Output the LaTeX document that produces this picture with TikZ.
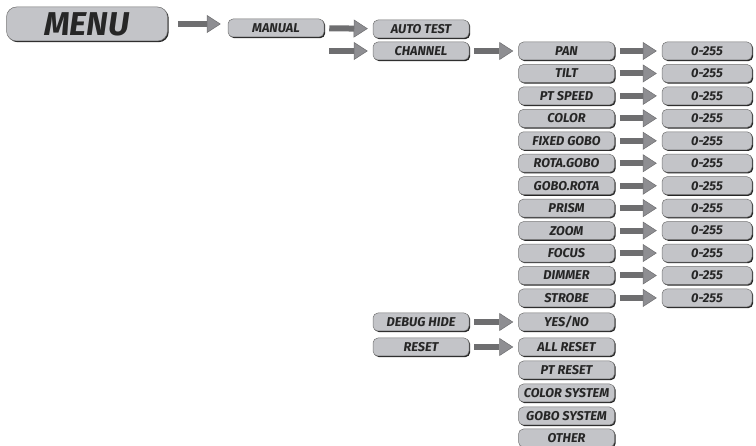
\documentclass[tikz,border=0pt]{standalone}
\usepackage{fontspec}
\setmainfont{Fira Sans}
\usepackage{tikz}
\usetikzlibrary{arrows.meta, shadows}
\definecolor{boxgray}{HTML}{C3C4C8}
\definecolor{shaftgray}{HTML}{6E6E70}
\definecolor{headgray}{HTML}{8E8E92}
\tikzset{
	menubox/.style={draw=black!55, line width=0.5pt, fill=boxgray, rounded corners=5pt,
		minimum height=18pt, inner sep=0pt, text=black!85,
		font=\bfseries\itshape\fontsize{12.8}{13}\selectfont,
		drop shadow={shadow xshift=1.2pt, shadow yshift=-1.2pt, fill=black!85, opacity=1}},
	midbox/.style={menubox, minimum width=96pt},
	valbox/.style={menubox, minimum width=90pt},
	goto/.style={line width=6pt, draw=shaftgray, shorten <=5pt, shorten >=5pt,
		-{Triangle[width=18pt,length=14pt,line width=0.5pt,fill=headgray]}}
}

\begin{document}
\begin{tikzpicture}[x=1pt,y=-1pt]
	\useasboundingbox (0,0) rectangle (756,446);
	\node[menubox, minimum width=161pt, minimum height=34pt, rounded corners=10pt,
		font=\bfseries\itshape\fontsize{33}{35}\selectfont] (menu) at (87,24) {MENU};
	\node[midbox] (manual) at (276,28) {MANUAL};
	\node[midbox] (autotest) at (421,29) {AUTO TEST};
	\node[midbox] (channel) at (421,51) {CHANNEL};
	\node[midbox] (debug) at (421,322) {DEBUG HIDE};
	\node[midbox] (reset) at (421,347) {RESET};
	\draw[goto, shorten <=10pt, shorten >=7pt] (menu) -- (menu -| manual.west);
	\draw[goto] (manual) -- (autotest);
	\draw[goto] (manual.east |- channel) -- (channel);

	% channels and their values
	\foreach \k / \name in {0/PAN,1/TILT,2/PT SPEED,3/COLOR,4/FIXED GOBO,5/ROTA.GOBO,
		6/GOBO.ROTA,7/PRISM,8/ZOOM,9/FOCUS,10/DIMMER,11/STROBE}
	   {\node[midbox] (ch\k) at (566.5,{51+22.45*\k}) {\name};
		\node[valbox] (val\k) at (707,{51+22.45*\k}) {0-255};
		\draw[goto] (ch\k) -- (val\k);}
	\draw[goto] (channel) -- (ch0);

	\foreach \y / \name / \txt in {322/yesno/YES\slash NO,347/allreset/ALL RESET,370/ptreset/PT RESET,
		393/colorsys/COLOR SYSTEM,416/gobosys/GOBO SYSTEM,438/other/OTHER}
		\node[midbox] (\name) at (566.5,\y) {\txt};
	\draw[goto] (debug) -- (yesno);
	\draw[goto] (reset) -- (allreset);
\end{tikzpicture}
\end{document}
